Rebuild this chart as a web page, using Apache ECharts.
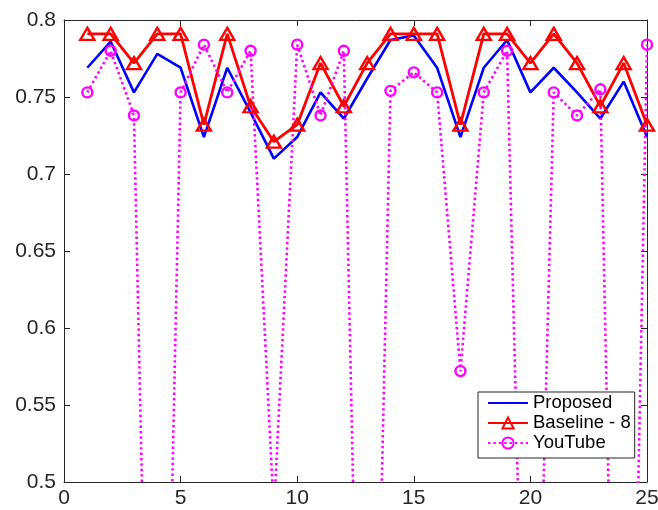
<!DOCTYPE html>
<html>
<head>
<meta charset="utf-8">
<script src="https://cdn.jsdelivr.net/npm/echarts@6/dist/echarts.min.js"></script>
<style>html,body{margin:0;padding:0;background:#fff}#c{width:658px;height:510px}</style>
</head>
<body>
<div id="c"></div>
<script>
const xs = [1,2,3,4,5,6,7,8,9,10,11,12,13,14,15,16,17,18,19,20,21,22,23,24,25];
const proposed = [0.769,0.786,0.753,0.778,0.769,0.724,0.769,0.740,0.710,0.724,0.753,0.736,0.762,0.787,0.790,0.769,0.724,0.769,0.787,0.753,0.769,0.753,0.736,0.760,0.724];
const baseline = [0.791,0.791,0.772,0.791,0.791,0.732,0.791,0.744,0.721,0.732,0.772,0.744,0.772,0.791,0.791,0.791,0.732,0.791,0.791,0.772,0.791,0.772,0.744,0.772,0.732];
const youtube = [0.753,0.780,0.738,0.04,0.753,0.784,0.753,0.780,0.48,0.784,0.738,0.780,0.07,0.754,0.766,0.753,0.572,0.753,0.780,0.17,0.753,0.738,0.755,0.02,0.784];
const seriesNames = ['Proposed','Baseline - 8','YouTube'];
const xTicks = {min:0, max:25, interval:5};
const yTicks = {min:0.5, max:0.8, interval:0.05};

const pair = arr => xs.map((x,i)=>[x,arr[i]]);
const axCol = '#262626';
const font = 'Liberation Sans, Arial, Helvetica, sans-serif';
const chart = echarts.init(document.getElementById('c'));
const baseAxis = {
  type:'value',
  axisLine:{show:true,onZero:false,lineStyle:{color:axCol,width:1}},
  axisTick:{show:true,inside:true,length:6,lineStyle:{color:axCol,width:1}},
  splitLine:{show:false}
};
chart.setOption({
  animation:false,
  grid:{left:64,right:11,top:20,bottom:28,outerBoundsMode:'none',containLabel:false},
  xAxis:[
    Object.assign({},baseAxis,{position:'bottom',min:xTicks.min,max:xTicks.max,interval:xTicks.interval,
      axisLabel:{color:'#262626',fontSize:21,fontFamily:font,margin:6}}),
    Object.assign({},baseAxis,{position:'top',min:xTicks.min,max:xTicks.max,interval:xTicks.interval,axisLabel:{show:false}})
  ],
  yAxis:[
    Object.assign({},baseAxis,{position:'left',min:yTicks.min,max:yTicks.max,interval:yTicks.interval,
      axisLabel:{color:'#262626',fontSize:21,fontFamily:font,margin:8,formatter:v=>String(+v.toFixed(2))}}),
    Object.assign({},baseAxis,{position:'right',min:yTicks.min,max:yTicks.max,interval:yTicks.interval,axisLabel:{show:false}})
  ],
  legend:{
    orient:'vertical',left:478,top:392,
    backgroundColor:'#fff',borderColor:'#262626',borderWidth:1,
    padding:[1,4,5,9],itemGap:0,itemWidth:40,itemHeight:14,
    textStyle:{fontSize:18.5,fontFamily:font,color:'#000',lineHeight:20},
    data:[{name:seriesNames[0],itemStyle:{opacity:0}},seriesNames[1],seriesNames[2]]
  },
  series:[
    {name:seriesNames[0],type:'line',data:pair(proposed),symbol:'none',
     color:'#0000ff',lineStyle:{color:'#0000ff',width:2.6},itemStyle:{color:'#0000ff'}},
    {name:seriesNames[1],type:'line',data:pair(baseline),symbol:'triangle',symbolSize:[14,12],
     color:'#ff0000',lineStyle:{color:'#ff0000',width:2.8},
     itemStyle:{color:'rgba(255,255,255,0)',borderColor:'#ff0000',borderWidth:2.4}},
    {name:seriesNames[2],type:'line',data:pair(youtube),symbol:'circle',symbolSize:10,
     color:'#ff00ff',lineStyle:{color:'#ff00ff',width:2.6,type:[2.4,3]},
     itemStyle:{color:'rgba(255,255,255,0)',borderColor:'#ff00ff',borderWidth:2.4}}
  ]
});
</script>
</body>
</html>
